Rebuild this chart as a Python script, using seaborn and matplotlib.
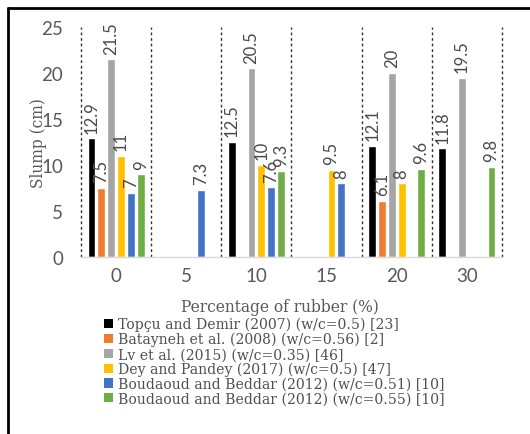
import numpy as np
import pandas as pd
import matplotlib
matplotlib.use("Agg")
import matplotlib.pyplot as plt
import seaborn as sns
from matplotlib.patches import Patch
from matplotlib.lines import Line2D

categories = ["0", "5", "10", "15", "20", "30"]
series_names = [
    "Topçu and Demir (2007) (w/c=0.5) [23]",
    "Batayneh et al. (2008) (w/c=0.56) [2]",
    "Lv et al. (2015) (w/c=0.35) [46]",
    "Dey and Pandey (2017) (w/c=0.5) [47]",
    "Boudaoud and Beddar (2012) (w/c=0.51) [10]",
    "Boudaoud and Beddar (2012) (w/c=0.55) [10]",
]
topcu = [12.9, np.nan, 12.5, np.nan, 12.1, 11.8]
batayneh = [7.5, np.nan, np.nan, np.nan, 6.1, np.nan]
lv = [21.5, np.nan, 20.5, np.nan, 20.0, 19.5]
dey = [11.0, np.nan, 10.0, 9.5, 8.0, np.nan]
boud51 = [7.0, 7.3, 7.6, 8.0, np.nan, np.nan]
boud55 = [9.0, np.nan, 9.3, np.nan, 9.6, 9.8]
series_values = [topcu, batayneh, lv, dey, boud51, boud55]
colors = ["#000000", "#ED7D31", "#A5A5A5", "#FFC000", "#4472C4", "#70AD47"]

rows = []
for name, vals in zip(series_names, series_values):
    for c, v in zip(categories, vals):
        rows.append({"Rubber": c, "Series": name, "Slump": v})
df = pd.DataFrame(rows)

sns.set_theme(style="white")
plt.rcParams["font.family"] = ["DejaVu Serif"]

SANS = ["Lato", "DejaVu Sans"]
TXT = "#595959"

fig = plt.figure(figsize=(5.3, 4.35), dpi=100)
ax = fig.add_axes([81/530, 1-258/435, (502-81)/530, (258-28)/435])

sns.barplot(data=df, x="Rubber", y="Slump", hue="Series", order=categories,
            hue_order=series_names, palette=colors, width=0.84, gap=0.2,
            ax=ax, legend=False, saturation=1)

for cont in ax.containers:
    for p in cont.patches:
        h = p.get_height()
        if np.isnan(h) or h == 0:
            continue
        ax.annotate(f"{h:g}", (p.get_x() + p.get_width()/2, h),
                    xytext=(0, 4), textcoords="offset points",
                    rotation=90, ha="center", va="bottom",
                    fontsize=12, color="#4a4a4a", family=SANS)

for xb in np.arange(-0.5, len(categories), 1.0):
    ax.axvline(xb, color="#333333", lw=1.0, ls=(0, (2, 2)), zorder=0,
               clip_on=False)

ax.set_xlim(-0.5, len(categories) - 0.5)
ax.set_ylim(0, 25)
ax.set_yticks([0, 5, 10, 15, 20, 25])
for s in ["top", "right", "left"]:
    ax.spines[s].set_visible(False)
ax.spines["bottom"].set_color("#D9D9D9")
ax.spines["bottom"].set_linewidth(1.0)
ax.tick_params(axis="both", length=0, labelsize=13.5, labelcolor=TXT)
ax.tick_params(axis="x", pad=7)
ax.tick_params(axis="y", pad=13)
for lab in ax.get_xticklabels() + ax.get_yticklabels():
    lab.set_family(SANS)
ax.set_xlabel("Percentage of rubber (%)", fontsize=11.2, color=TXT)
ax.xaxis.set_label_coords((280-81)/421, (258-308)/230)
ax.xaxis.label.set_va("center")
ax.set_ylabel("Slump (cm)", fontsize=11.2, color=TXT)
ax.yaxis.set_label_coords((38.5-81)/421, 0.5)
ax.yaxis.label.set_va("center")

handles = [Patch(facecolor=c, edgecolor="none") for c in colors]
leg = fig.legend(handles, series_names, loc="upper left",
                 bbox_to_anchor=(104/530, 1-318/435), frameon=False,
                 fontsize=10.1, handlelength=0.62, handleheight=0.62,
                 handletextpad=0.4, labelspacing=0.05, borderpad=0,
                 borderaxespad=0)
for t in leg.get_texts():
    t.set_color("#505050")

fig.add_artist(Line2D([8/530, 8/530], [0, 1-9/435], transform=fig.transFigure,
                      color="black", lw=2.0))
fig.add_artist(Line2D([8/530, 1], [1-9/435, 1-9/435], transform=fig.transFigure,
                      color="black", lw=2.0))

fig.savefig("out.png", dpi=100)
